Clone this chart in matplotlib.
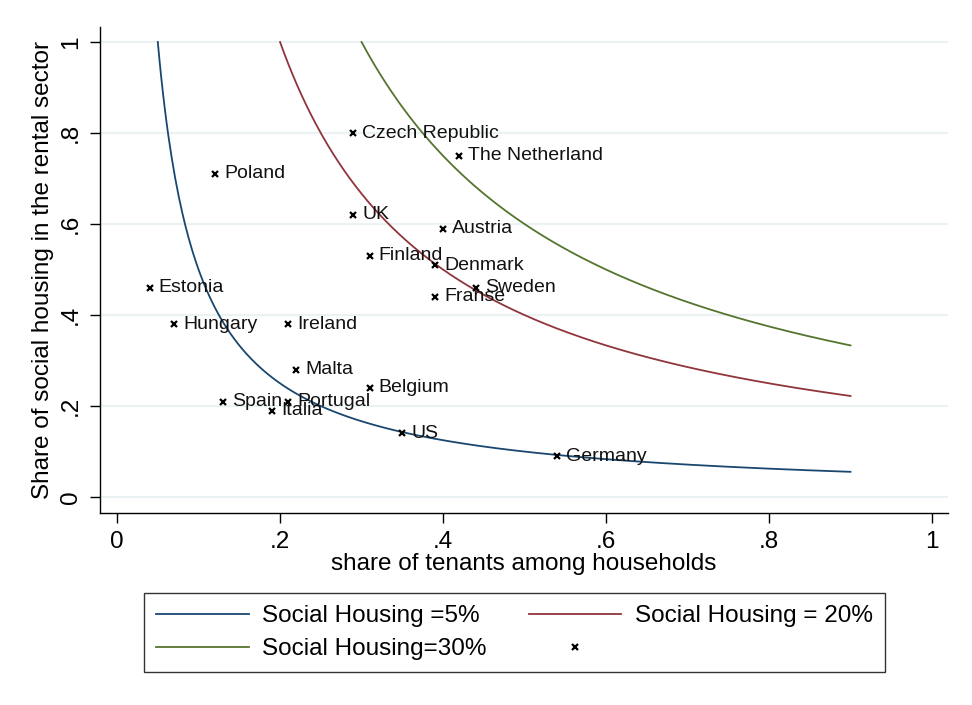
import numpy as np
import matplotlib
matplotlib.use("Agg")
import matplotlib.pyplot as plt

plt.rcParams['font.family'] = ['Liberation Sans', 'DejaVu Sans']

# social housing share levels for the iso-curves
shares = [0.05, 0.20, 0.30]
curve_labels = ["Social Housing =5%", "Social Housing = 20%", "Social Housing=30%"]
curve_colors = ["#1a476f", "#90353b", "#55752f"]
x_end = 0.9

# countries: share of tenants, share of social housing in rental sector
countries = ["Czech Republic", "The Netherland", "Poland", "UK", "Austria", "Finland",
             "Denmark", "Sweden", "Franse", "Estonia", "Hungary", "Ireland", "Malta",
             "Belgium", "Spain", "Portugal", "Italia", "US", "Germany"]
tenants = [0.29, 0.42, 0.12, 0.29, 0.40, 0.31, 0.39, 0.44, 0.39, 0.04, 0.07, 0.21,
           0.22, 0.31, 0.13, 0.21, 0.19, 0.35, 0.54]
social = [0.80, 0.75, 0.71, 0.62, 0.59, 0.53, 0.51, 0.46, 0.44, 0.46, 0.38, 0.38,
          0.28, 0.24, 0.21, 0.21, 0.19, 0.14, 0.09]

fig = plt.figure(figsize=(9.72, 7.05), dpi=100)
ax = fig.add_axes([0.1029, 0.2723, 0.8724, 0.6894])

for y in [0, 0.2, 0.4, 0.6, 0.8, 1.0]:
    ax.axhline(y, color='#eaf2f3', lw=1.5, zorder=0)

handles = []
for s, lab, c in zip(shares, curve_labels, curve_colors):
    xs = np.linspace(s, x_end, 400)
    h, = ax.plot(xs, s / xs, color=c, lw=1.3, label=lab)
    handles.append(h)

pts, = ax.plot(tenants, social, 'x', color='black', ms=5, mew=1.6, linestyle='none', label=' ')
for name, xv, yv in zip(countries, tenants, social):
    ax.annotate(name, (xv, yv), xytext=(6.5, 0), textcoords='offset points',
                ha='left', va='center', fontsize=14, color='#111111')

ax.set_xlim(-0.0209, 1.0196)
ax.set_ylim(-0.035, 1.033)
ax.set_xticks([0, 0.2, 0.4, 0.6, 0.8, 1.0])
ax.set_xticklabels(["0", ".2", ".4", ".6", ".8", "1"])
ax.set_yticks([0, 0.2, 0.4, 0.6, 0.8, 1.0])
ax.set_yticklabels(["0", ".2", ".4", ".6", ".8", "1"], rotation=90, va='center')
ax.tick_params(labelsize=17.5, length=7, width=1, colors='black', pad=6)
for side in ['top', 'right']:
    ax.spines[side].set_visible(False)
for side in ['left', 'bottom']:
    ax.spines[side].set_color('black')
    ax.spines[side].set_linewidth(1)

ax.set_xlabel("share of tenants among households", fontsize=17.5, labelpad=0)
ax.set_ylabel("Share of social housing in the rental sector", fontsize=17.5, labelpad=4)

order = [handles[0], handles[2], handles[1], pts]
leg = fig.legend(order, [h.get_label() for h in order], ncol=2,
                 loc='upper left', bbox_to_anchor=(144 / 972, 1 - 593 / 705),
                 fontsize=17.5, frameon=True, fancybox=False, edgecolor='black',
                 handlelength=3.8, handletextpad=0.55, columnspacing=1.75,
                 borderpad=0.5, labelspacing=0.45, borderaxespad=0)
leg.get_frame().set_linewidth(1)

fig.savefig("out.png", dpi=100, facecolor='white')
